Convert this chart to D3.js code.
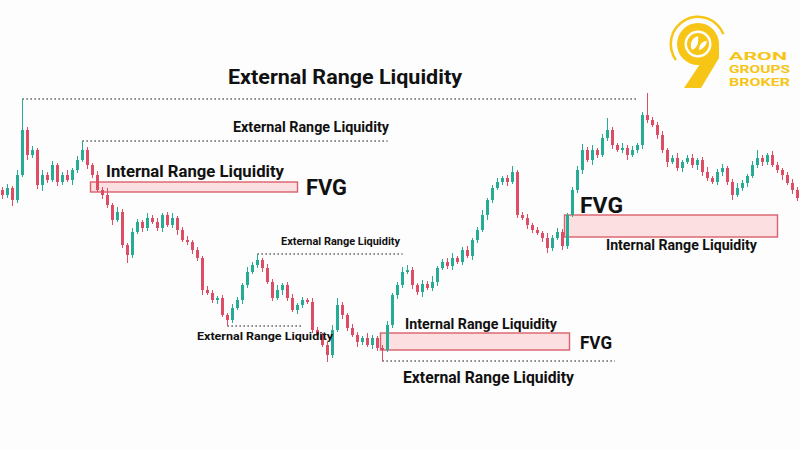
<!DOCTYPE html>
<html><head><meta charset="utf-8">
<script src="https://cdn.jsdelivr.net/npm/d3@7"></script>
<style>html,body{margin:0;padding:0;background:#fdfdfd;}svg{display:block;font-family:Roboto,"Open Sans",sans-serif;}</style>
</head><body><svg id="c" width="800" height="450"></svg>
<script>
// ---- data (price units) ----
const firstOpen = 210;
const closes = [
205,212,200,225,270,245,250,215,225,220,
235,218,225,220,230,240,250,235,225,210,
205,195,180,188,155,145,168,178,172,182,
178,172,185,175,182,170,160,158,150,142,
110,107,100,102,85,80,92,100,115,128,
135,140,132,118,102,110,115,102,90,95,
100,98,70,65,55,45,70,95,85,72,
65,58,62,55,62,52,50,75,105,115,
128,130,115,108,116,112,118,132,138,134,
142,138,150,144,160,170,185,200,212,218,
222,218,228,185,182,175,170,167,162,152,
162,168,154,185,210,230,250,240,250,245,
262,270,255,250,252,245,250,255,285,280,
275,265,250,238,242,232,238,242,235,240,
228,222,218,228,232,218,205,212,217,224,
235,242,238,245,235,230,225,217,210,202];
const wickUp = [
3,4,2,5,31,3,4,2,5,3, 4,2,3,5,2,4,9,3,2,4, 3,7,2,5,3,2,4,3,2,5, 3,4,2,3,5,2,3,4,2,3,
2,4,3,2,3,2,4,3,2,5, 3,6,2,4,3,5,2,3,4,2, 3,2,4,3,2,3,5,7,3,2, 4,3,2,5,3,2,3,4,2,3,
5,5,3,2,4,3,6,2,3,4, 5,2,3,4,2,3,5,2,3,4, 2,3,6,2,3,4,2,3,2,5, 3,4,3,2,3,4,6,3,5,2,
4,12,3,2,5,3,4,2,3,22, 3,3,4,2,3,5,2,3,4,2, 3,5,2,3,4,2,3,5,3,2, 4,8,3,2,4,3,2,3,4,3];
const wickDn = [
4,3,6,3,2,5,3,4,6,3, 2,4,3,2,5,3,2,4,3,2, 4,3,5,2,3,8,3,2,4,3, 2,3,4,2,3,5,2,3,4,3,
5,2,3,4,2,6,3,2,4,3, 2,3,4,2,3,2,5,3,2,4, 3,2,3,4,2,7,3,2,4,3, 2,5,3,2,4,3,11,2,3,4,
3,2,4,3,5,2,3,4,2,3, 4,2,3,2,4,3,2,5,3,2, 3,4,2,3,2,4,3,2,4,5, 3,2,4,3,2,3,4,2,5,3,
2,3,4,2,3,5,2,3,4,3, 2,4,3,5,2,3,4,2,3,5, 4,3,2,3,4,3,5,2,3,4, 2,3,4,3,2,3,5,2,4,3];

// liquidity lines: [fromIndex, toIndex, price]
const liqLines = [
  [4, 127.5, 301],
  [16, 77.5, 259],
  [51, 80.5, 146],
  [45, 60.5, 74],
  [76, 123, 39]
];
// FVG boxes: [fromIndex, toIndex, topPrice, bottomPrice]
const fvgBoxes = [
  [18.1, 59.5, 218, 208],
  [76.1, 113.9, 67, 50],
  [112.9, 155.5, 185, 163]
];
const labels = [
  {t:"External Range Liquidity", x:228, y:84, s:21, w:234},
  {t:"External Range Liquidity", x:233, y:132, s:14, w:156},
  {t:"Internal Range Liquidity", x:106, y:177, s:17, w:178},
  {t:"FVG", x:306, y:195, s:22, w:41},
  {t:"External Range Liquidity", x:281, y:245, s:11, w:119},
  {t:"External Range Liquidity", x:197, y:340, s:11, w:136},
  {t:"Internal Range Liquidity", x:405, y:329, s:14, w:152},
  {t:"FVG", x:580, y:349, s:19, w:32},
  {t:"External Range Liquidity", x:403, y:383, s:16, w:171},
  {t:"FVG", x:580, y:213, s:22, w:43},
  {t:"Internal Range Liquidity", x:606, y:250, s:14, w:151}
];
const brand = ["ARON","GROUPS","BROKER"];

// ---- build ----
const candles = closes.map((c,i)=>{
  const o = i===0 ? firstOpen : closes[i-1];
  return {i, o, c, h: Math.max(o,c)+wickUp[i], l: Math.min(o,c)-wickDn[i]};
});
const svg = d3.select("#c");
const W=800,H=450;
svg.append("rect").attr("width",W).attr("height",H).attr("fill","#fdfdfd");
const x = d3.scaleLinear().domain([0, closes.length]).range([0, W]);
const y = d3.scaleLinear().domain([-50, 400]).range([H, 0]);
const up="#26ab94", dn="#dc4d66";

// FVG boxes
svg.append("g").selectAll("rect").data(fvgBoxes).join("rect")
  .attr("x",d=>x(d[0])).attr("width",d=>x(d[1])-x(d[0]))
  .attr("y",d=>y(d[2])).attr("height",d=>y(d[3])-y(d[2]))
  .attr("fill","#fbdfe1").attr("stroke","#d9606c").attr("stroke-width",1.4);

// liquidity dotted lines
svg.append("g").selectAll("line").data(liqLines).join("line")
  .attr("x1",d=>x(d[0]+0.5)).attr("x2",d=>x(d[1]))
  .attr("y1",d=>y(d[2])).attr("y2",d=>y(d[2]))
  .attr("stroke","#444").attr("stroke-width",1.3).attr("stroke-dasharray","1.3,2.7");

// candles
const g = svg.append("g");
g.selectAll("line").data(candles).join("line")
  .attr("x1",d=>x(d.i+0.5)).attr("x2",d=>x(d.i+0.5))
  .attr("y1",d=>y(d.h)).attr("y2",d=>y(d.l))
  .attr("stroke",d=>d.c>=d.o?up:dn).attr("stroke-width",1);
g.selectAll("rect").data(candles).join("rect")
  .attr("x",d=>x(d.i+0.5)-1.5).attr("width",3)
  .attr("y",d=>y(Math.max(d.o,d.c)))
  .attr("height",d=>Math.max(1,Math.abs(y(d.o)-y(d.c))))
  .attr("fill",d=>d.c>=d.o?up:dn);

// labels
svg.append("g").selectAll("text").data(labels).join("text")
  .attr("x",d=>d.x).attr("y",d=>d.y).attr("font-size",d=>d.s)
  .attr("font-weight","bold").attr("fill","#111")
  .attr("textLength",d=>d.w).attr("lengthAdjust","spacingAndGlyphs")
  .text(d=>d.t);

// logo
const gold="#f7c515";
const lg = svg.append("g");
const cx=698, cy=44;
lg.append("path").attr("transform",`translate(${cx},${cy})`)
  .attr("d", d3.arc()({innerRadius:26,outerRadius:28.5,startAngle:-2.2,endAngle:1.2}))
  .attr("fill",gold);
lg.append("path").attr("d","M719,44 L719,58 L701,88 L684,88 L708,52 Z").attr("fill",gold);
lg.append("circle").attr("cx",cx).attr("cy",cy).attr("r",21).attr("fill",gold);
lg.append("circle").attr("cx",cx).attr("cy",cy).attr("r",13.5).attr("fill","#fff");
lg.append("circle").attr("cx",cx).attr("cy",cy).attr("r",11).attr("fill",gold);
lg.append("path").attr("d","M692,50 C689,43 692,38 698,36 C699,43 697,48 692,50 Z").attr("fill","#fff");
lg.append("path").attr("d","M699,50 C699,44 703,41 707,41 C706,46 703,49 699,50 Z").attr("fill","#fff");
lg.selectAll("text.b").data(brand).join("text").attr("class","b")
  .attr("x",729).attr("y",(d,i)=>59.5+i*13.3).attr("font-size",11.3).attr("font-weight","bold")
  .attr("fill",gold).attr("textLength",(d,i)=>i===0?58:61).attr("lengthAdjust","spacingAndGlyphs")
  .text(d=>d);
</script></body></html>
